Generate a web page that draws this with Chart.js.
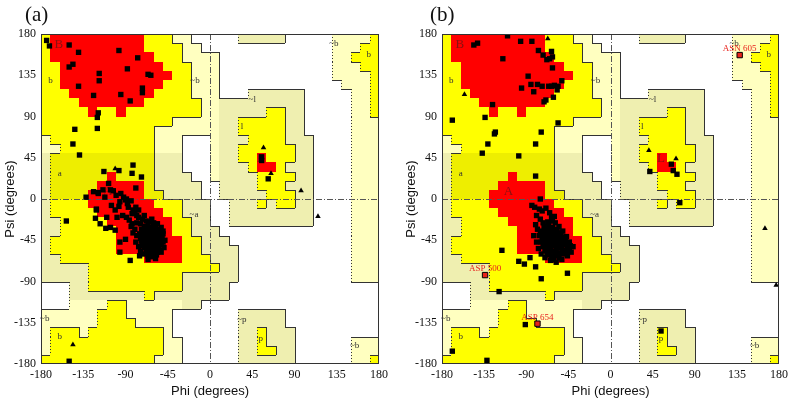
<!DOCTYPE html>
<html>
<head>
<meta charset="utf-8">
<script src="https://cdn.jsdelivr.net/npm/chart.js@4.4.1/dist/chart.umd.min.js"></script>
<style>
  body { margin: 0; background: #fff; }
  #wrap { position: relative; width: 795px; height: 403px; overflow: hidden; }
  canvas { position: absolute; top: 0; }
  .tag { position: absolute; top: 2px; font: 21px "Liberation Serif", serif; color: #111; }
</style>
</head>
<body>
<div id="wrap">
  <canvas id="chartA" width="397" height="403" style="left:0"></canvas>
  <canvas id="chartB" width="398" height="403" style="left:397px"></canvas>
  <div class="tag" style="left:25px">(a)</div>
  <div class="tag" style="left:430px">(b)</div>
</div>
<script>
// axis ticks
const phiTicks = [-180, -135, -90, -45, 0, 45, 90, 135, 180];
const psiTicks = [180, 135, 90, 45, 0, -45, -90, -135, -180];

// region map, 10 degree cells: rows psi 180 -> -180, columns phi -180 -> 180
// R core, Y allowed, O allowed (shaded band), P / K generous, . disallowed
const regionRows = [
  'YRRRRRRRRRRYYYPP.....KKKKK.....PPPPY',
  'YRRRRRRRRRRYYYYPP..............PPPYY',
  'YRRRRRRRRRRRYYYPPPP............PPYYY',
  'YYRRRRRRRRRRRYYYPPP............PPPYY',
  'YYRRRRRRRRRRRRYYPPP............PPPPY',
  'YYRRRRRRRRRRRYYYPPP.............PPPY',
  'YYYRRRRRRRRRYYYYPPP...KKKKKK.....PPY',
  'YYYYRRRRRRRYYYYYYPPKKKKKKKKK.....PPY',
  'YYYYYRYYRYYYYYYYYPPKKKKKYYKK.....PPY',
  'YYYYYYYYYYYYYYPPPPPKKYYYYYKK.....PPP',
  'YYYYYYYYYYYYPPPPPPPKKYYYYYKK.....PPP',
  'PYYYYYYYYYYYPPP...PKKKYYYYKKK....PPP',
  'PPYYYYYYYYYYPPP...PKKYYYYYYKK....PPP',
  'KOOOOOOOOOOOKKK...PKKYYRYYYKK....PPP',
  'KOOOOOOOOOOOKKK...PKKKYRRYKKK....PPP',
  'KOOOOOOROOOOKKKK..PKKKKYYYYKK....PPP',
  'KOOOOORRRRROKKKKK..KKKKYYYKKK....PPP',
  'KOOOORRRRRROOKKKK..KKKKKYYYKK....PPP',
  'KYYYYRRRRRRRYYYKKK..KKKYKYYKK....PPP',
  'KYYYYYRRRRRRRYYKKK..KKKKKKKKK....PPP',
  'KKYYYYYRRRRRRRYYKK..KKKKKKKKK....PPP',
  'KKYYYYYYRRRRRRYYKKK..............PPP',
  'KYYYYYYYRRRRRRRYYKKK.............PPP',
  'KYYYYYYYRRRRRRRYYKKKK............PPP',
  'KKYYYYYYYYYRRRRYYYKKK............PPP',
  'KKKKKYYYYYYYYYYYYYYKK............PPP',
  'KKKKKYYYYYYYYYYKKKKKK............PPP',
  '...KKYYYYYYYYYYKKKKK................',
  '...KKKKKKKKYKKKKKKKK................',
  '...PPPPYYPPPPPPKK...................',
  'PPPPPPYYYPPPPP.......KKKKK..........',
  'PPPPPPYYYYPPPP.......KKKKK..........',
  'PYYYPYYYYYYYYP.......KKYKKK.........',
  'PYYYYYYYYYYYYPP......KKYKKK......PPP',
  'PYYYYYYYYYYYYPP......KKYYKK......PPP',
  'YYYYYYYYYYYYPPP......KKKKKK......PPY'
];
const regionColors = { R: '#ff0000', Y: '#ffff00', O: '#eeee00', P: '#ffffc0', K: '#efefb0' };
const regionLevel = { '.': 0, P: 1, K: 1, Y: 2, O: 2, R: 3 };

// region labels [text, phi, psi]
const regionLabels = [
  ['B', -161, 169], ['b', -170, 129], ['a', -160, 28], ['A', -109, 8],
  ['~b', -16, 129], ['~l', 45, 108], ['l', 34, 79], ['L', 54, 44],
  ['~b', 132, 169], ['b', 169, 158], ['~a', -17, -17], ['~b', -176, -130],
  ['b', -160, -150], ['~p', 34, -132], ['p', 54, -152], ['~b', 154, -160]
];
const coreLabels = ['B', 'A', 'L'];

// panel (a) residues [phi, psi]
const aSquares = [
  [-174, 173], [-171, 167], [-150, 168], [-140, 160], [-146, 147], [-150, 144], [-97, 162], [-77, 154],
  [-88, 142], [-118, 137], [-118, 129], [-66, 136], [-63, 135], [-140, 123], [-124, 113], [-95, 114],
  [-85, 107], [-72, 121], [-72, 116], [-119, 94], [-120, 89], [-120, 77], [-144, 76], [-146, 60],
  [-139, 48], [-113, 30], [-97, 31], [-82, 37], [-83, 28], [-73, 24], [-108, 17], [-106, 10],
  [-114, 10], [-103, 9], [-124, 8], [-119, 7], [-132, 2], [-95, 6], [-89, 0], [-79, 12],
  [-121, -11], [-122, -21], [-117, -27], [-111, -32], [-101, -34], [-96, -47], [-96, -58], [-85, -67],
  [-90, -44], [-153, -24], [-86, -23], [-83, -16], [-79, -9], [-150, -177], [55, 46], [55, 42], [62, 22],
  [-119, 6], [-112, 2], [-105, -7], [-96, -3], [-90, -1], [-87, -9], [-82, -12], [-101, -12], [-110, -20],
  [-89, -20], [-83, -27], [-78, -18], [-121, -12], [-106, -31],
  [-70, -30], [-66, -29], [-62, -31], [-58, -30], [-55, -33], [-73, -33], [-69, -35], [-65, -34],
  [-61, -36], [-57, -35], [-53, -37], [-75, -38], [-71, -39], [-67, -40], [-63, -39], [-59, -41],
  [-55, -40], [-51, -42], [-74, -43], [-70, -44], [-66, -45], [-62, -44], [-58, -46], [-54, -45],
  [-50, -47], [-72, -48], [-68, -49], [-64, -50], [-60, -49], [-56, -51], [-52, -50], [-70, -53],
  [-66, -54], [-62, -55], [-58, -54], [-54, -56], [-68, -58], [-64, -59], [-60, -60], [-56, -58],
  [-66, -62], [-61, -63], [-68, -32], [-64, -32], [-60, -33], [-71, -36], [-67, -37], [-63, -37],
  [-59, -38], [-69, -41], [-65, -42], [-61, -42], [-57, -43], [-53, -43], [-73, -46], [-69, -47],
  [-65, -47], [-61, -47], [-57, -48], [-53, -48], [-67, -51], [-63, -52], [-59, -52], [-55, -53],
  [-71, -51], [-65, -56], [-61, -57], [-57, -61], [-63, -45], [-59, -44], [-67, -43], [-64, -37],
  [-80, -15], [-76, -20], [-72, -22], [-68, -24], [-64, -25], [-60, -26], [-78, -26], [-74, -27],
  [-80, -33], [-78, -40], [-79, -47], [-76, -52], [-74, -57], [-70, -60], [-52, -58], [-49, -53],
  [-48, -45], [-50, -38], [-52, -31], [-56, -27], [-62, -22], [-70, -18], [-76, -12], [-84, -30],
  [-82, -37], [-66, -66], [-58, -65], [-75, -62], [-50, -35], [-88, -5], [-84, -2], [-92, 2],
  [-100, 4], [-97, -8], [-93, -18], [-99, -20]
];
const aTriangles = [[-101, 33], [57, 56], [65, 28], [97, 9], [115, -19], [-146, -159]];

// panel (b) residues [phi, psi]
const bSquares = [
  [-110, 178], [-96, 172], [-84, 172], [-146, 168], [-142, 170], [-77, 162], [-72, 157], [-63, 161],
  [-68, 152], [-65, 153], [-62, 155], [-115, 153], [-62, 143], [-88, 134], [-78, 125], [-85, 125],
  [-73, 123], [-66, 123], [-63, 123], [-60, 124], [-56, 123], [-52, 129], [-95, 121], [-82, 117],
  [-57, 119], [-61, 111], [-69, 108], [-71, 106], [-126, 103], [-134, 89], [-169, 86], [-56, 83],
  [-74, 73], [-123, 73], [-124, 71], [-131, 60], [-80, 60], [-137, 50], [-98, 47], [-80, 25], [-75, 0],
  [-116, -56], [-98, -68], [-92, -71], [-86, -64], [-80, -74], [-74, -87], [-46, -81], [-119, -101],
  [-91, -137], [-169, -166], [-132, -176], [65, 38], [67, 31], [71, 27], [42, 30], [74, -4], [54, -144],
  [-84, -7], [-81, -9], [-76, -11], [-73, -13], [-69, -10], [-65, -15], [-63, -20], [-79, -18],
  [-75, -22], [-80, -28], [-78, -33], [-82, -40], [-79, -47], [-77, -54], [-74, -60], [-70, -64],
  [-64, -67], [-58, -69], [-52, -66], [-46, -62], [-42, -58], [-40, -52], [-44, -47], [-47, -41],
  [-51, -35], [-55, -30], [-59, -26], [-67, -25], [-71, -30], [-60, -19], [-70, -34], [-66, -33],
  [-62, -31], [-58, -33], [-73, -38], [-69, -39], [-65, -37], [-61, -36], [-57, -38], [-53, -37],
  [-71, -43], [-67, -44], [-63, -42], [-59, -41], [-55, -43], [-51, -42], [-48, -45], [-74, -47],
  [-70, -48], [-66, -48], [-62, -47], [-58, -46], [-54, -48], [-50, -50], [-46, -52], [-72, -52],
  [-68, -53], [-64, -52], [-60, -51], [-56, -53], [-52, -55], [-48, -56], [-66, -57], [-62, -57],
  [-58, -56], [-54, -59], [-50, -60], [-63, -62], [-59, -62], [-55, -64], [-68, -61], [-44, -56],
  [-64, -40], [-60, -44], [-56, -49], [-52, -46], [-68, -36], [-66, -41], [-62, -50], [-58, -59],
  [-54, -52], [-70, -56], [-73, -42], [-61, -66], [-47, -59], [-49, -48], [-53, -41], [-57, -35],
  [-75, -35], [-66, -28], [-72, -26], [-76, -40], [-62, -24], [-43, -51]
];
const bTriangles = [[-67, 175], [-156, 114], [41, 53], [70, 44], [165, -32], [177, -94]];
const bFlagged = [[-134, -83], [-78, -136], [138, 157]];
const bFlagNames = ['ASP 500', 'ASP 654', 'ASN 605'];

function cellX(s, phi) { return Math.round(s.getPixelForValue(phi)); }
function cellY(s, psi) { return Math.round(s.getPixelForValue(psi)); }

const regionPlugin = {
  id: 'regions',
  beforeDatasetsDraw(chart) {
    const { ctx, chartArea: a, scales: { x, y } } = chart;
    ctx.save();
    ctx.fillStyle = '#fff';
    ctx.fillRect(a.left, a.top, a.width, a.height);
    regionRows.forEach((row, j) => {
      const y0 = cellY(y, 180 - 10 * j), y1 = cellY(y, 170 - 10 * j);
      for (let i = 0; i < 36; i++) {
        const c = row[i];
        if (c === '.') continue;
        const x0 = cellX(x, -180 + 10 * i), x1 = cellX(x, -170 + 10 * i);
        ctx.fillStyle = regionColors[c];
        ctx.fillRect(x0, y0, x1 - x0, y1 - y0);
      }
    });

    // region borders
    ctx.strokeStyle = '#333';
    ctx.lineWidth = 1;
    regionRows.forEach((row, j) => {
      const y0 = cellY(y, 180 - 10 * j), y1 = cellY(y, 170 - 10 * j);
      for (let i = 0; i < 36; i++) {
        const here = regionLevel[row[i]];
        const x0 = cellX(x, -180 + 10 * i), x1 = cellX(x, -170 + 10 * i);
        if (i > 0) {
          const left = regionLevel[row[i - 1]];
          if (left !== here && left < 3 && here < 3) {
            ctx.setLineDash(left > here ? [] : [1, 2]);
            ctx.beginPath();
            ctx.moveTo(x0 + 0.5, y0);
            ctx.lineTo(x0 + 0.5, y1);
            ctx.stroke();
          }
        }
        if (j > 0) {
          const up = regionLevel[regionRows[j - 1][i]];
          if (up !== here && up < 3 && here < 3) {
            ctx.setLineDash([]);
            ctx.beginPath();
            ctx.moveTo(x0, y0 + 0.5);
            ctx.lineTo(x1, y0 + 0.5);
            ctx.stroke();
          }
        }
      }
    });

    // zero lines
    ctx.setLineDash([6, 2, 1, 2]);
    ctx.strokeStyle = '#555';
    const x0 = Math.round(x.getPixelForValue(0)) + 0.5;
    const y0 = Math.round(y.getPixelForValue(0)) + 0.5;
    ctx.beginPath();
    ctx.moveTo(x0, a.top); ctx.lineTo(x0, a.bottom);
    ctx.moveTo(a.left, y0); ctx.lineTo(a.right, y0);
    ctx.stroke();
    ctx.setLineDash([]);

    // region labels
    ctx.textAlign = 'center';
    ctx.textBaseline = 'middle';
    regionLabels.forEach(([t, phi, psi]) => {
      const core = coreLabels.includes(t);
      ctx.font = core ? '13px "Liberation Serif", serif' : '9px "Liberation Serif", serif';
      ctx.fillStyle = core ? '#8a1010' : '#333';
      ctx.fillText(t, x.getPixelForValue(phi), y.getPixelForValue(psi));
    });
    ctx.restore();
  },
  afterDatasetsDraw(chart) {
    const { ctx, chartArea: a, scales: { x, y } } = chart;
    ctx.save();
    ctx.strokeStyle = '#333';
    ctx.lineWidth = 1;
    ctx.strokeRect(Math.round(a.left) + 0.5, Math.round(a.top) + 0.5,
      Math.round(a.width) - 1, Math.round(a.height) - 1);
    const names = chart.options.plugins.regions.names || [];
    const pts = chart.data.datasets[2] ? chart.data.datasets[2].data : [];
    ctx.font = '9px "Liberation Serif", serif';
    ctx.fillStyle = '#e8231c';
    ctx.textAlign = 'center';
    ctx.textBaseline = 'bottom';
    pts.forEach((p, k) => {
      ctx.fillText(names[k], x.getPixelForValue(p.x), y.getPixelForValue(p.y) - 2);
    });
    ctx.restore();
  }
};

function toXY(list) { return list.map(([phi, psi]) => ({ x: phi, y: psi })); }

function makeChart(id, squares, triangles, flagged, names, yWidth, padRight, titlePad) {
  const datasets = [
    { data: toXY(squares), pointStyle: 'rect', pointRadius: 3.8, backgroundColor: '#000', borderColor: '#000', borderWidth: 0 },
    { data: toXY(triangles), pointStyle: 'triangle', pointRadius: 3.2, backgroundColor: '#000', borderColor: '#000', borderWidth: 0 }
  ];
  if (flagged.length) {
    datasets.push({ data: toXY(flagged), pointStyle: 'rect', pointRadius: 3.8, backgroundColor: '#e8231c', borderColor: '#000', borderWidth: 1 });
  }
  return new Chart(document.getElementById(id), {
    type: 'scatter',
    data: { datasets },
    options: {
      responsive: false,
      animation: false,
      devicePixelRatio: 1,
      layout: { padding: { left: 0, right: padRight, top: 34, bottom: 0 } },
      plugins: { legend: { display: false }, tooltip: { enabled: false }, regions: { names } },
      scales: {
        x: {
          type: 'linear', min: -180, max: 180,
          afterBuildTicks: s => { s.ticks = phiTicks.map(v => ({ value: v })); },
          afterFit: s => { s.height = 39; },
          grid: { display: true, drawOnChartArea: false, drawTicks: false, color: '#333' },
          border: { display: false },
          ticks: { color: '#111', padding: 4, maxRotation: 0, font: { family: '"Liberation Serif", serif', size: 12 }, callback: v => String(v) },
          title: { display: true, text: 'Phi (degrees)', color: '#111', padding: { top: 0, bottom: 4 }, font: { family: '"Liberation Sans", Arial, sans-serif', size: 13 } }
        },
        y: {
          type: 'linear', min: -180, max: 180,
          afterBuildTicks: s => { s.ticks = psiTicks.map(v => ({ value: v })); },
          afterFit: s => { s.width = yWidth; },
          grid: { display: true, drawOnChartArea: false, drawTicks: false, color: '#333' },
          border: { display: false },
          ticks: { color: '#111', padding: 5, font: { family: '"Liberation Serif", serif', size: 12 }, callback: v => String(v) },
          title: { display: true, text: 'Psi (degrees)', color: '#111', padding: { top: titlePad, bottom: 0 }, font: { family: '"Liberation Sans", Arial, sans-serif', size: 13 } }
        }
      }
    },
    plugins: [regionPlugin]
  });
}

makeChart('chartA', aSquares, aTriangles, [], [], 41, 18, 3);
makeChart('chartB', bSquares, bTriangles, bFlagged, bFlagNames, 45, 16, 7);
</script>
</body>
</html>
